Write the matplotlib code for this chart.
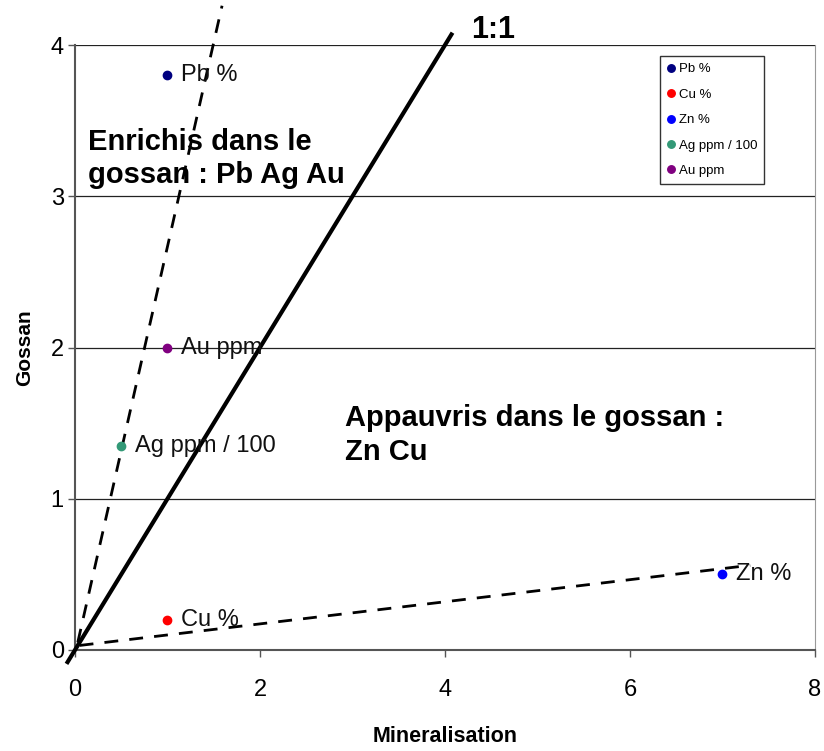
import numpy as np
import matplotlib
matplotlib.use("Agg")
import matplotlib.pyplot as plt

plt.rcParams['font.family'] = ['Liberation Sans', 'DejaVu Sans']

# data
labels = ['Pb %', 'Cu %', 'Zn %', 'Ag ppm / 100', 'Au ppm']
mineral = [1.0, 1.0, 7.0, 0.5, 1.0]
gossan = [3.8, 0.2, 0.5, 1.35, 2.0]
colors = ['#000080', '#FF0000', '#0000FF', '#339977', '#800080']

# reference lines
one_x = [-0.08, 4.07]
one_y = [-0.08, 4.07]
steep_x = [0.03, 1.59]
steep_y = [0.05, 4.26]
flat_x = [0.05, 7.3]
flat_y = [0.03, 0.56]

fig = plt.figure(figsize=(8.24, 7.51), dpi=100)
ax = fig.add_axes([0.091, 0.1345, 0.898, 0.8055])

ax.set_xlim(0, 8)
ax.set_ylim(0, 4)
for y in [1, 2, 3, 4]:
    ax.axhline(y, color='#222222', lw=0.9, zorder=1)

ax.plot(one_x, one_y, color='black', lw=3, clip_on=False, zorder=3)
ax.plot(steep_x, steep_y, color='black', lw=2, ls=(0, (5, 4)), clip_on=False, zorder=3)
ax.plot(flat_x, flat_y, color='black', lw=2, ls=(0, (5, 4)), clip_on=False, zorder=3)

for xv, yv, c, lab in zip(mineral, gossan, colors, labels):
    ax.plot(xv, yv, 'o', color=c, ms=6, ls='none', label=lab, zorder=4)
    ax.text(xv + 0.15, yv, lab, fontsize=17, va='center', ha='left', color='#111111', zorder=5)

ax.text(0.14, 3.25, 'Enrichis dans le\ngossan : Pb Ag Au', fontsize=21, fontweight='bold',
        va='center', ha='left', linespacing=1.25)
ax.text(2.92, 1.42, 'Appauvris dans le gossan :\nZn Cu', fontsize=21, fontweight='bold',
        va='center', ha='left', linespacing=1.25)
ax.text(4.28, 4.1, '1:1', fontsize=22, fontweight='bold', va='center', ha='left', clip_on=False)

leg = ax.legend(loc='upper right', bbox_to_anchor=(0.94, 0.992), fontsize=9.5, frameon=True,
                fancybox=False, edgecolor='black', handlelength=0.6, handletextpad=0.3,
                markerscale=0.9, borderpad=0.5, labelspacing=1.0)
leg.get_frame().set_linewidth(1.0)

ax.set_xticks([0, 2, 4, 6, 8])
ax.set_yticks([0, 1, 2, 3, 4])
ax.tick_params(labelsize=17, length=5, width=1, color='#555555')
ax.tick_params(axis='x', pad=16)
ax.tick_params(axis='y', pad=3)
for s in ['left', 'bottom']:
    ax.spines[s].set_color('#555555')
    ax.spines[s].set_linewidth(1.5)
ax.spines['top'].set_visible(False)
ax.spines['right'].set_color('#999999')

ax.set_xlabel('Mineralisation', fontsize=15.5, fontweight='bold', labelpad=18)
ax.set_ylabel('Gossan', fontsize=15, fontweight='bold', labelpad=12)

fig.savefig('out.png', dpi=100)
